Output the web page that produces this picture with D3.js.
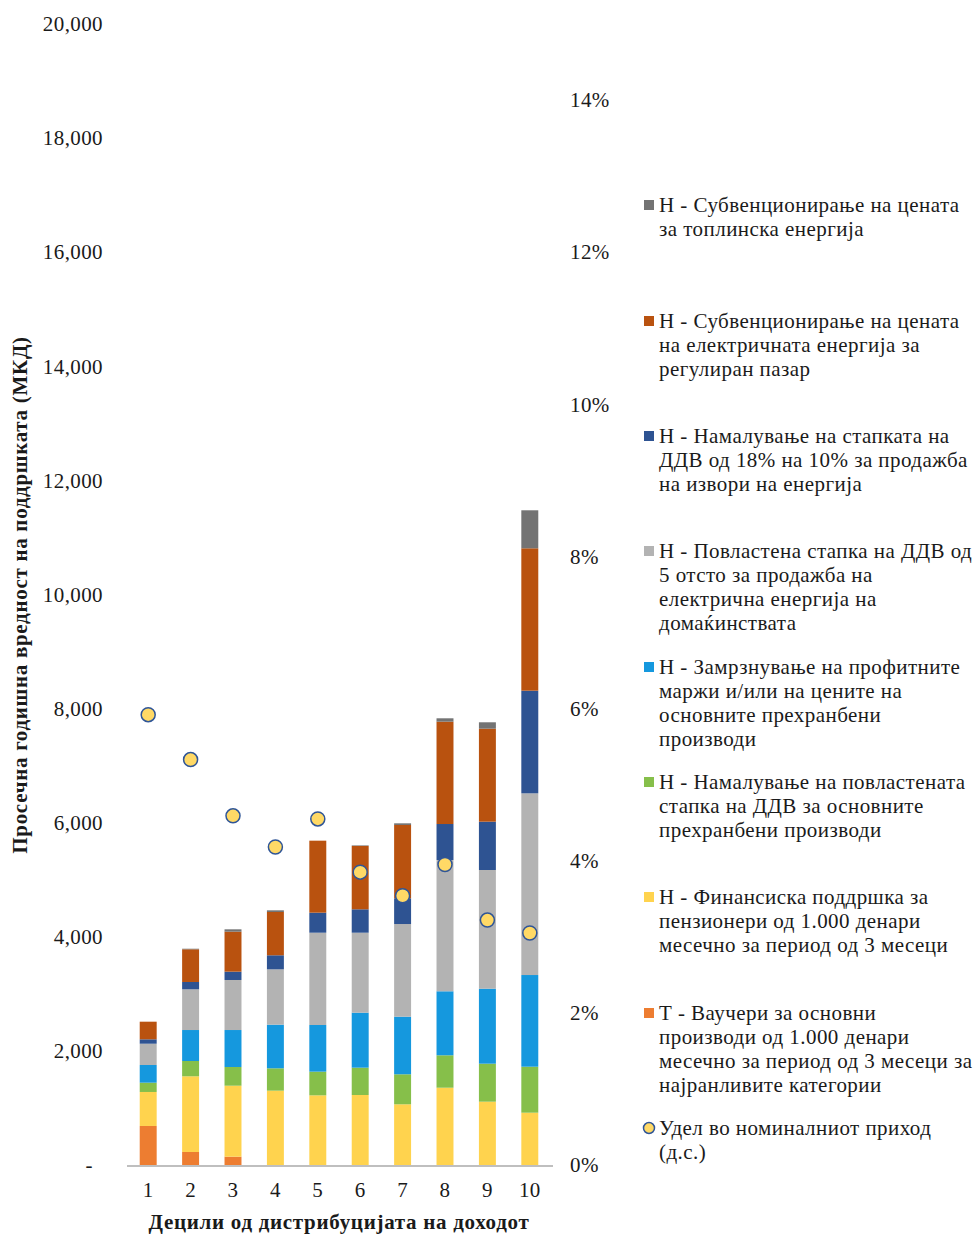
<!DOCTYPE html>
<html lang="mk">
<head>
<meta charset="utf-8">
<title>Децили</title>
<script src="https://d3js.org/d3.v7.min.js"></script>
<style>
  body { margin: 0; background: #fff; }
  text { font-family: "Liberation Serif", "DejaVu Serif", serif; fill: #1a1a1a; }
  .tick text { font-size: 21px; letter-spacing: 0.4px; }
  .legend text { font-size: 21px; letter-spacing: 0.45px; }
  .title { font-size: 21px; font-weight: bold; letter-spacing: 0.7px; }
</style>
</head>
<body>
<script>
// deciles
var deciles = ["1", "2", "3", "4", "5", "6", "7", "8", "9", "10"];

// series values per decile (MKD), bottom to top
var vouchers   = [684, 228, 146, 0, 0, 0, 0, 0, 0, 0];
var pensioners = [596, 1327, 1244, 1303, 1221, 1227, 1064, 1355, 1110, 917];
var foodVat    = [163, 268, 328, 392, 415, 479, 526, 568, 666, 806];
var margins    = [310, 543, 648, 765, 818, 964, 1010, 1122, 1315, 1607];
var elecVat    = [373, 714, 877, 970, 1618, 1402, 1624, 2301, 2080, 3185];
var energyVat  = [77, 128, 146, 246, 351, 410, 451, 631, 847, 1799];
var elecPrice  = [309, 573, 701, 759, 1262, 1110, 1285, 1794, 1630, 2496];
var heatPrice  = [0, 10, 41, 29, 0, 10, 29, 59, 112, 666];

// share in nominal income (right axis, %)
var share = [5.92, 5.33, 4.59, 4.18, 4.55, 3.85, 3.54, 3.95, 3.22, 3.05];

var leftTicks = [0, 2000, 4000, 6000, 8000, 10000, 12000, 14000, 16000, 18000, 20000];
var rightTicks = [0, 2, 4, 6, 8, 10, 12, 14];

var seriesKeys = ["vouchers", "pensioners", "foodVat", "margins", "elecVat", "energyVat", "elecPrice", "heatPrice"];
var seriesData = [vouchers, pensioners, foodVat, margins, elecVat, energyVat, elecPrice, heatPrice];
var colors = ["#ED7D31", "#FFD34E", "#86BF4A", "#1598DE", "#B3B3B3", "#2E5392", "#B9520F", "#737373"];

// legend (top to bottom)
var legendItems = [
  { key: "heatPrice", lines: ["Н - Субвенционирање на цената", "за топлинска енергија"] },
  { key: "elecPrice", lines: ["Н - Субвенционирање на цената", "на електричната енергија за", "регулиран пазар"] },
  { key: "energyVat", lines: ["Н - Намалување на стапката на", "ДДВ од 18% на 10% за продажба", "на извори на енергија"] },
  { key: "elecVat", lines: ["Н - Повластена стапка на ДДВ од", "5 отсто за продажба на", "електрична енергија на", "домаќинствата"] },
  { key: "margins", lines: ["Н - Замрзнување на профитните", "маржи и/или на цените на", "основните прехранбени", "производи"] },
  { key: "foodVat", lines: ["Н - Намалување на повластената", "стапка на ДДВ за основните", "прехранбени производи"] },
  { key: "pensioners", lines: ["Н - Финансиска поддршка за", "пензионери од 1.000 денари", "месечно за период од 3 месеци"] },
  { key: "vouchers", lines: ["Т - Ваучери за основни", "производи од 1.000 денари", "месечно за период од 3 месеци за", "најранливите категории"] },
  { key: "dot", lines: ["Удел во номиналниот приход", "(д.с.)"] }
];
var legendTops = [205, 321, 436, 551, 667, 782, 897, 1013, 1128];

var w = 974, h = 1234;
var margin = { left: 127, right: 423, top: 24, bottom: 69 };

var rows = deciles.map(function(d, i) {
  var r = { decile: d, share: share[i] };
  seriesKeys.forEach(function(k, j) { r[k] = seriesData[j][i]; });
  return r;
});

var svg = d3.select("body").append("svg")
  .attr("width", w)
  .attr("height", h);

var x = d3.scaleBand()
  .domain(deciles)
  .range([margin.left, w - margin.right])
  .paddingInner(0.6)
  .paddingOuter(0.3);

var y = d3.scaleLinear()
  .domain([0, 20000])
  .range([h - margin.bottom, margin.top]);

var y2 = d3.scaleLinear()
  .domain([0, 15])
  .range([h - margin.bottom, margin.top]);

var color = d3.scaleOrdinal().domain(seriesKeys).range(colors);

var stack = d3.stack().keys(seriesKeys);
var stacked = stack(rows);

// bars
svg.append("g")
  .selectAll("g")
  .data(stacked)
  .enter()
  .append("g")
  .attr("fill", function(d) { return color(d.key); })
  .selectAll("rect")
  .data(function(d) { return d; })
  .enter()
  .append("rect")
  .attr("x", function(d) { return x(d.data.decile); })
  .attr("y", function(d) { return y(d[1]); })
  .attr("width", x.bandwidth())
  .attr("height", function(d) { return y(d[0]) - y(d[1]); });

// baseline
svg.append("line")
  .attr("x1", margin.left)
  .attr("x2", w - margin.right + 2)
  .attr("y1", y(0) + 1)
  .attr("y2", y(0) + 1)
  .attr("stroke", "#BFBFBF")
  .attr("stroke-width", 2);

// left axis
var yAxis = d3.axisLeft(y)
  .tickValues(leftTicks)
  .tickSize(0)
  .tickPadding(0)
  .tickFormat(function(d) { return d === 0 ? "-" : d3.format(",")(d); });

svg.append("g")
  .attr("transform", "translate(103,0)")
  .call(yAxis)
  .call(function(g) { g.select(".domain").remove(); })
  .selectAll("text")
  .attr("font-family", null);

svg.selectAll(".tick text").filter(function(d) { return d === 0; })
  .attr("dx", -10);

// right axis
var y2Axis = d3.axisRight(y2)
  .tickValues(rightTicks)
  .tickSize(0)
  .tickPadding(0)
  .tickFormat(function(d) { return d + "%"; });

svg.append("g")
  .attr("transform", "translate(570,0)")
  .call(y2Axis)
  .call(function(g) { g.select(".domain").remove(); })
  .selectAll("text")
  .attr("font-family", null);

// x axis
var xAxis = d3.axisBottom(x).tickSize(0).tickPadding(0);
svg.append("g")
  .attr("transform", "translate(0," + (y(0) + 17) + ")")
  .call(xAxis)
  .call(function(g) { g.select(".domain").remove(); })
  .selectAll("text")
  .attr("font-family", null);

svg.selectAll(".tick text").attr("font-size", null);

// dots
svg.append("g")
  .selectAll("circle")
  .data(rows)
  .enter()
  .append("circle")
  .attr("cx", function(d) { return x(d.decile) + x.bandwidth() / 2; })
  .attr("cy", function(d) { return y2(d.share); })
  .attr("r", 7)
  .attr("fill", "#FFD966")
  .attr("stroke", "#2F5597")
  .attr("stroke-width", 1.5);

// titles
svg.append("text")
  .attr("class", "title")
  .attr("x", 339)
  .attr("y", 1229)
  .attr("text-anchor", "middle")
  .text("Децили од дистрибуцијата на доходот");

svg.append("text")
  .attr("class", "title")
  .attr("transform", "translate(27,595) rotate(-90)")
  .attr("text-anchor", "middle")
  .text("Просечна годишна вредност на поддршката (МКД)");

// legend
var legend = svg.append("g").attr("class", "legend");
legendItems.forEach(function(item, i) {
  var g = legend.append("g").attr("transform", "translate(0," + legendTops[i] + ")");
  if (item.key === "dot") {
    g.append("circle")
      .attr("cx", 649).attr("cy", 0).attr("r", 5.5)
      .attr("fill", "#FFD966").attr("stroke", "#2F5597").attr("stroke-width", 1.5);
  } else {
    g.append("rect")
      .attr("x", 644).attr("y", -5).attr("width", 10).attr("height", 10)
      .attr("fill", color(item.key));
  }
  item.lines.forEach(function(line, j) {
    g.append("text")
      .attr("x", 659)
      .attr("y", j * 24)
      .attr("dy", "0.35em")
      .text(line);
  });
});
</script>
</body>
</html>
